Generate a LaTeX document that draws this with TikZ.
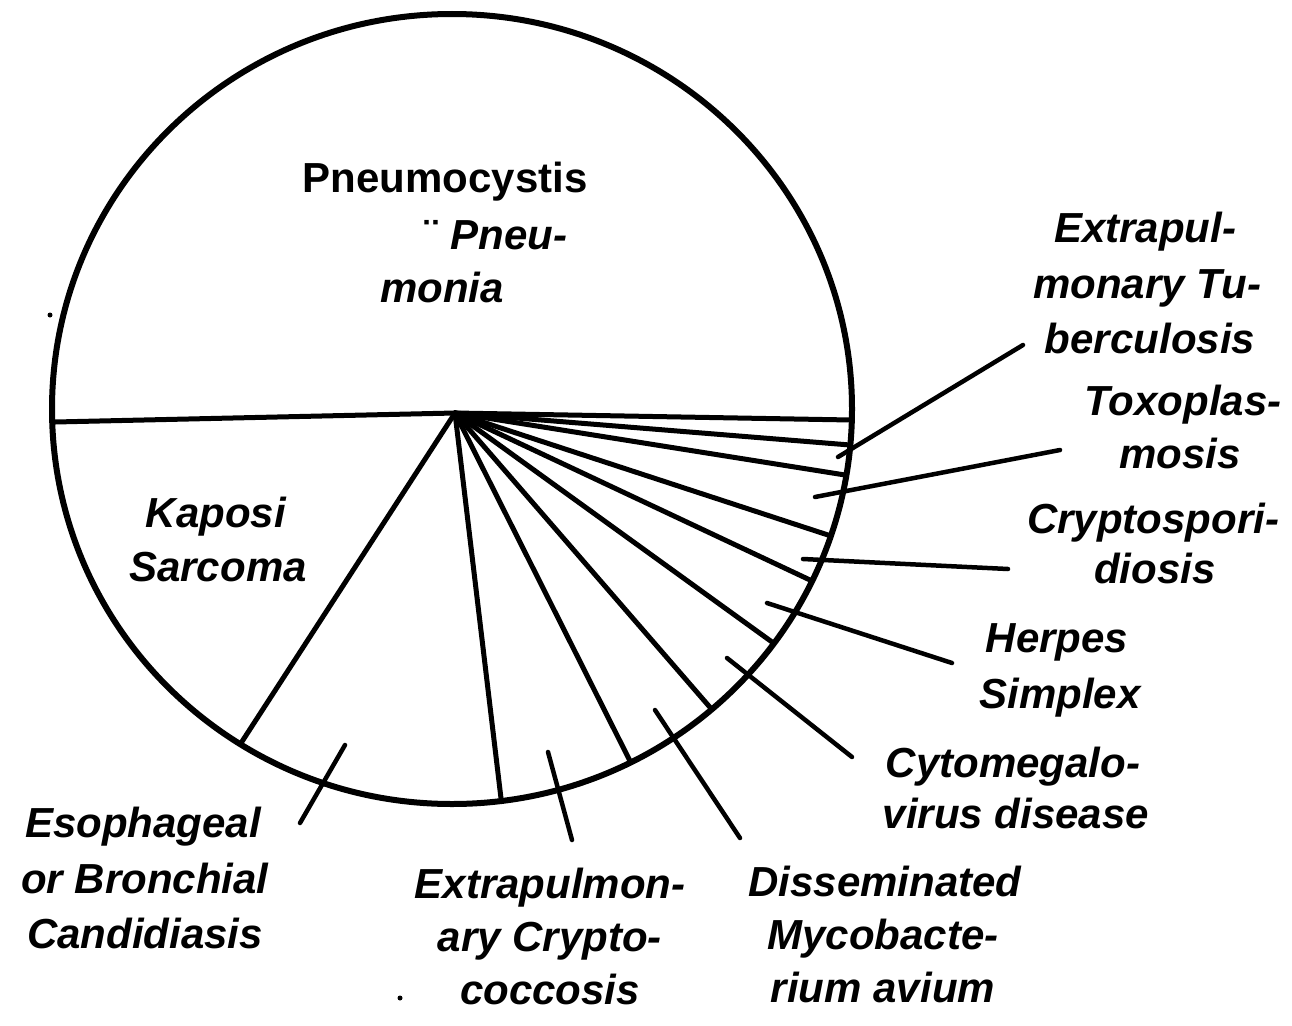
\documentclass[tikz,border=0pt]{standalone}
\usepackage{fontspec}
\setmainfont{Liberation Sans}
\usetikzlibrary{calc}
\begin{document}
\begin{tikzpicture}[x=1pt,y=-1pt,
  lbl/.style={anchor=base,inner sep=0pt,font=\fontsize{42}{55}\selectfont\bfseries\itshape},
  lblup/.style={anchor=base,inner sep=0pt,font=\fontsize{42}{55}\selectfont\bfseries},
  spoke/.style={line width=5pt,line cap=round},
  ptr/.style={line width=4.5pt,line cap=round},
  rim/.style={line width=6pt},
  speck/.style={fill=black,draw=none}]
\useasboundingbox (0,0) rectangle (1292,1025);
\fill[white] (0,0) rectangle (1292,1025);
\coordinate (O) at (452,409);
\coordinate (C) at (455,413);
% spokes, clipped at the rim
\begin{scope}
  \clip (O) ellipse [x radius=400pt, y radius=395pt];
  \foreach \px/\py in {55/422, 851/420, 850/445, 845/475, 828/535, 810/580,
                       772/642, 708/705, 628/757, 500/790, 243/740}
    \draw[spoke] (C) -- ($(C)!1.15!(\px,\py)$);
\end{scope}
\draw[rim] (O) ellipse [x radius=400pt, y radius=395pt];

% labels inside
\node[lblup] (pc1) at (445,192) {Pneumocystis};
\node[lbl] (pc2) at (496,249) {\upshape¨\itshape\ Pneu-};
\node[lbl] (pc3) at (442,302) {monia};
\node[lbl] (ks1) at (216,527) {Kaposi};
\node[lbl] (ks2) at (218,581) {Sarcoma};

% outside labels
\node[lbl] (ec1) at (143,837) {Esophageal};
\node[lbl] (ec2) at (145,893) {or Bronchial};
\node[lbl] (ec3) at (145,948) {Candidiasis};

\node[lbl] (cc1) at (550,898) {Extrapulmon-};
\node[lbl] (cc2) at (550,951) {ary Crypto-};
\node[lbl] (cc3) at (550,1004) {coccosis};

\node[lbl] (ma1) at (885,896) {Disseminated};
\node[lbl] (ma2) at (883,949) {Mycobacte-};
\node[lbl] (ma3) at (883,1002) {rium avium};

\node[lbl] (cm1) at (1013,777) {Cytomegalo-};
\node[lbl] (cm2) at (1016,828) {virus disease};

\node[lbl] (hs1) at (1057,652) {Herpes};
\node[lbl] (hs2) at (1060,708) {Simplex};

\node[lbl] (cr1) at (1153,533) {Cryptospori-};
\node[lbl] (cr2) at (1155,583) {diosis};

\node[lbl] (tx1) at (1183,415) {Toxoplas-};
\node[lbl] (tx2) at (1180,468) {mosis};

\node[lbl] (tb1) at (1145,242) {Extrapul-};
\node[lbl] (tb2) at (1147,298) {monary Tu-};
\node[lbl] (tb3) at (1150,353) {berculosis};

% pointer lines
\coordinate (ecA) at (345,745);  \coordinate (ecB) at (300,823);
\coordinate (ccA) at (548,752);  \coordinate (ccB) at (572,840);
\coordinate (maA) at (655,710);  \coordinate (maB) at (740,838);
\coordinate (cmA) at (727,658);  \coordinate (cmB) at (852,757);
\coordinate (hsA) at (767,603);  \coordinate (hsB) at (952,663);
\coordinate (crA) at (803,559);  \coordinate (crB) at (1008,569);
\coordinate (txA) at (815,497);  \coordinate (txB) at (1060,450);
\coordinate (tbA) at (838,457);  \coordinate (tbB) at (1023,345);
\foreach \n in {ec,cc,ma,cm,hs,cr,tx,tb}
  \draw[ptr] (\n A) -- (\n B);

% stray specks of the print
\fill[speck] (50,315) circle (2.5pt);
\fill[speck] (400,998) circle (2.5pt);
\end{tikzpicture}
\end{document}
